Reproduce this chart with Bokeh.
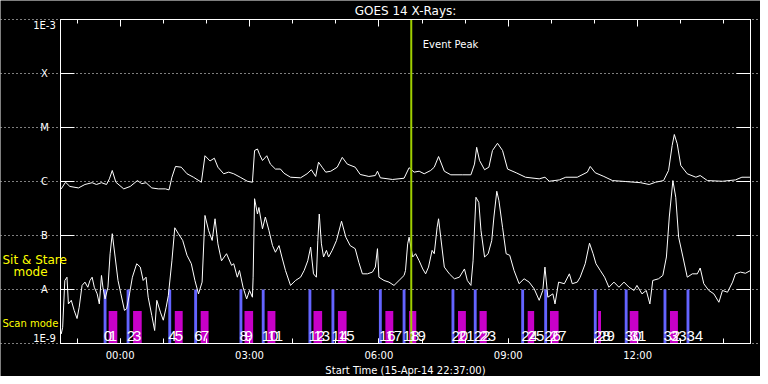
from bokeh.plotting import figure
from bokeh.models import (Range1d, LinearAxis, LogAxis, FixedTicker, CustomJSTickFormatter,
                          Label, ColumnDataSource)
from bokeh.embed import file_html
from bokeh.resources import INLINE
from bokeh.core.properties import value

# ---------------- data ----------------
title_text = "GOES 14 X-Rays:"
start_label = "15-Apr-14 22:37:00"
start_minute_of_day = 22 * 60 + 37
duration_min = 960

# long channel (1-8 A), minutes after start, W/m^2
long_t = [1, 7, 13, 25, 34, 44, 50, 57, 64, 68, 72, 77, 88, 97, 107, 113, 119, 127, 136, 146,
          151, 155, 160, 168, 176, 185, 196, 201, 208, 214, 219, 227, 234, 241, 250, 260, 267, 270, 274, 277,
          281, 287, 292, 299, 306, 311, 320, 334, 343, 349, 355, 359, 364, 369, 376, 385, 392, 399, 410, 417,
          429, 438, 441, 445, 462, 478, 485, 492, 499, 506, 515, 520, 526, 534, 543, 559, 571, 576, 579, 583,
          590, 596, 601, 608, 615, 622, 634, 647, 666, 674, 680, 694, 703, 719, 733, 737, 744, 756, 768, 786,
          807, 819, 828, 839, 846, 851, 854, 858, 863, 872, 884, 890, 900, 921, 939, 948, 960]
long_flux = [7.3e-7, 9.7e-7, 8.1e-7, 7.6e-7, 8.8e-7, 9.5e-7, 8.8e-7, 9.5e-7, 8.8e-7, 1.12e-6,
             1.6e-6, 9.7e-7, 7.3e-7, 8.1e-7, 1.04e-6, 9.1e-7, 9.5e-7, 7.6e-7, 7.3e-7, 7.3e-7,
             7.0e-7, 1.2e-6, 1.9e-6, 1.84e-6, 1.39e-6, 1.2e-6, 9.7e-7, 3.0e-6, 2.4e-6, 2.7e-6,
             1.84e-6, 1.39e-6, 1.49e-6, 1.39e-6, 1.2e-6, 1.01e-6, 9.7e-7, 3.75e-6, 4.0e-6, 3.16e-6,
             2.45e-6, 3.0e-6, 2.1e-6, 1.7e-6, 1.7e-6, 1.42e-6, 1.2e-6, 1.17e-6, 1.39e-6, 1.65e-6,
             1.24e-6, 2.28e-6, 1.84e-6, 1.49e-6, 1.55e-6, 1.84e-6, 2.8e-6, 2.1e-6, 1.84e-6, 1.35e-6,
             1.24e-6, 1.29e-6, 1.55e-6, 1.17e-6, 1.09e-6, 1.15e-6, 1.8e-6, 1.49e-6, 1.55e-6, 1.39e-6,
             1.6e-6, 1.84e-6, 2.9e-6, 1.55e-6, 1.33e-6, 1.33e-6, 1.33e-6, 2.1e-6, 4.3e-6, 2.45e-6,
             1.65e-6, 1.84e-6, 3.75e-6, 5.1e-6, 3.75e-6, 1.7e-6, 1.45e-6, 1.2e-6, 1.12e-6, 1.2e-6,
             1.01e-6, 1.07e-6, 1.2e-6, 1.2e-6, 1.49e-6, 1.9e-6, 1.45e-6, 1.24e-6, 1.04e-6, 1.0e-6,
             9.5e-7, 8.8e-7, 9.7e-7, 1.04e-6, 1.6e-6, 4.64e-6, 7.42e-6, 5.0e-6, 1.98e-6, 1.39e-6,
             1.2e-6, 1.29e-6, 1.04e-6, 1.01e-6, 1.07e-6, 1.2e-6, 1.2e-6]

# short channel (0.5-4 A)
short_t = [1, 3, 6, 9, 11, 15, 19, 23, 26, 30, 34, 38, 41, 44, 47, 51, 54, 57, 59, 62,
           66, 69, 72, 76, 80, 84, 89, 92, 96, 100, 106, 111, 115, 119, 122, 127, 131, 134, 139, 143,
           147, 150, 155, 159, 164, 170, 176, 182, 187, 192, 197, 201, 206, 211, 215, 219, 224, 231, 238, 241,
           246, 249, 254, 259, 263, 267, 268, 270, 274, 276, 281, 285, 290, 295, 299, 304, 308, 313, 320, 327,
           334, 339, 344, 348, 352, 356, 358, 360, 363, 366, 370, 373, 378, 384, 391, 397, 403, 410, 415, 420,
           427, 434, 438, 441, 443, 450, 457, 464, 471, 478, 480, 483, 485, 490, 494, 499, 504, 508, 512, 517,
           520, 524, 526, 529, 534, 541, 548, 555, 562, 566, 571, 574, 578, 582, 585, 590, 595, 600, 603, 607,
           610, 615, 620, 625, 631, 638, 645, 652, 659, 666, 671, 674, 678, 685, 688, 693, 701, 708, 712, 719,
           723, 730, 736, 741, 745, 751, 757, 763, 770, 777, 784, 791, 798, 802, 809, 815, 820, 824, 832, 838,
           843, 847, 852, 856, 860, 866, 872, 879, 886, 890, 895, 902, 909, 916, 921, 928, 935, 939, 946, 953,
           960]
short_flux = [1.5e-9, 2.0e-9, 1.47e-8, 1.69e-8, 5.4e-9, 6.3e-9, 4.1e-9, 2.9e-9, 4.7e-9, 1.19e-8,
              1.37e-8, 1.1e-8, 1.47e-8, 1.69e-8, 1.1e-8, 8.3e-9, 5.4e-9, 1.82e-8, 1.1e-8, 6.7e-9,
              1.1e-8, 4.6e-8, 1.08e-7, 4.0e-8, 1.47e-8, 8.3e-9, 4.1e-9, 4.4e-9, 8.3e-9, 1.69e-8,
              3.0e-8, 2.6e-8, 1.47e-8, 1.69e-8, 7.2e-9, 3.3e-9, 1.74e-9, 6.3e-9, 3.8e-9, 2.7e-9,
              4.7e-9, 7.7e-9, 3.4e-8, 1.39e-7, 1.08e-7, 8.1e-8, 4.3e-8, 3.0e-8, 1.47e-8, 8.3e-9,
              1.37e-8, 2.35e-7, 1.24e-7, 8.1e-8, 2.04e-7, 7.0e-8, 3.4e-8, 4.6e-8, 2.8e-8, 3.0e-8,
              1.69e-8, 2.25e-8, 1.1e-8, 6.7e-9, 9.6e-9, 7.2e-9, 1.69e-8, 4.8e-7, 2.5e-7, 3.3e-7,
              1.33e-7, 2.2e-7, 1.24e-7, 6.5e-8, 4.9e-8, 6.5e-8, 4.0e-8, 2.25e-8, 1.19e-8, 1.47e-8,
              1.69e-8, 2.25e-8, 3.4e-8, 6.1e-8, 1.95e-8, 1.69e-8, 8.1e-8, 2.5e-7, 7.0e-8, 4.0e-8,
              5.3e-8, 4.0e-8, 5.3e-8, 8.1e-8, 1.84e-7, 9.3e-8, 6.5e-8, 5.7e-8, 3.2e-8, 1.95e-8,
              1.95e-8, 2.1e-8, 2.6e-8, 5.7e-8, 1.69e-8, 1.47e-8, 1.37e-8, 1.19e-8, 1.47e-8, 1.82e-8,
              2.25e-8, 7.0e-8, 9.3e-8, 4.0e-8, 4.6e-8, 3.4e-8, 2.4e-8, 1.95e-8, 2.6e-8, 5.3e-8,
              4.6e-8, 1.42e-7, 2.04e-7, 9.3e-8, 2.6e-8, 1.95e-8, 1.58e-8, 1.69e-8, 2.4e-8, 1.47e-8,
              1.19e-8, 3.4e-8, 5.1e-7, 4.1e-7, 1.24e-7, 4.0e-8, 4.6e-8, 8.1e-8, 2.2e-7, 6.6e-7,
              4.4e-7, 1.42e-7, 4.6e-8, 4.3e-8, 2.25e-8, 1.28e-8, 1.58e-8, 1.37e-8, 1.03e-8, 6.3e-9,
              9.6e-9, 2.6e-8, 7.2e-9, 8.3e-9, 5.4e-9, 1.37e-8, 1.28e-8, 1.95e-8, 1.28e-8, 1.37e-8,
              1.69e-8, 3.0e-8, 7.2e-8, 4.6e-8, 3.0e-8, 2.25e-8, 1.69e-8, 1.1e-8, 1.37e-8, 1.1e-8,
              1.37e-8, 1.1e-8, 9.6e-9, 1.19e-8, 8.3e-9, 9.6e-9, 5.4e-9, 1.47e-8, 1.58e-8, 1.82e-8,
              4.0e-8, 2.2e-7, 1.04e-6, 5.1e-7, 9.3e-8, 4.0e-8, 1.69e-8, 1.95e-8, 1.95e-8, 2.5e-8,
              1.28e-8, 9.6e-9, 8.3e-9, 5.8e-9, 9.6e-9, 8.9e-9, 1.37e-8, 1.95e-8, 2.1e-8, 2.0e-8,
              2.25e-8]

# observing modes: start minute and duration (minutes)
sit_stare_start = [60, 92, 150, 186, 249, 280, 345, 377, 443, 476, 544, 575, 641, 673, 742, 785, 839, 871]
sit_stare_dur = [4] * len(sit_stare_start)
scan_start = [67, 101, 159, 195, 256, 288, 352, 386, 452, 485, 553, 583, 650, 681, 748, 792, 848]
scan_dur = [12, 12, 11, 11, 12, 11, 12, 12, 11, 10, 11, 10, 9, 12, 4, 12, 11]

event_peak_t = 488

flux_min, flux_max = 1e-9, 1e-3
y_tick_values = [1e-9, 1e-8, 1e-7, 1e-6, 1e-5, 1e-4, 1e-3]
y_tick_labels = ["1E-9", "A", "B", "C", "M", "X", "1E-3"]

# ---------------- layout geometry (pixels) ----------------
W, H = 760, 376
FL, FR, FT, FB = 60, 750, 19, 343          # data box inside the canvas
ppm = (FR - FL) / duration_min             # pixels per minute
ppd = (FB - FT) / 6.0                      # pixels per decade
x0 = -FL / ppm
x1 = duration_min + (W - FR) / ppm
y1 = flux_max * 10 ** (FT / ppd)
y0 = flux_min * 10 ** (-(H - FB) / ppd)

FONT = "DejaVu Sans"
p = figure(width=W, height=H, x_range=Range1d(x0, x1), y_range=Range1d(y0, y1),
           y_axis_type="log", output_backend="svg", toolbar_location=None,
           background_fill_color="black", border_fill_color="black",
           min_border=0, min_border_left=0, min_border_right=0, min_border_top=0, min_border_bottom=0)
p.outline_line_color = None
p.xgrid.visible = False

first_hour = (60 - start_minute_of_day % 60) % 60
minor_x = list(range(first_hour, duration_min + 1, 60))
major_x = [m for m in minor_x if ((start_minute_of_day + m) // 60) % 3 == 0]
xt = FixedTicker(ticks=major_x, minor_ticks=minor_x)
xfmt = CustomJSTickFormatter(args=dict(start=start_minute_of_day), code="""
const m = ((start + Math.round(tick)) % 1440 + 1440) % 1440;
const h = Math.floor(m / 60), mm = m % 60;
return String(h).padStart(2, '0') + ':' + String(mm).padStart(2, '0');
""")
blank = CustomJSTickFormatter(code="return '';")

xa = p.xaxis[0]
xa.fixed_location = flux_min
xa.bounds = (0, duration_min)
xa.ticker = xt
xa.formatter = xfmt
xa.axis_label = "Start Time (" + start_label + ")"
xa.axis_label_text_font = FONT
xa.axis_label_text_font_style = "normal"
xa.axis_label_text_font_size = "10px"
xa.axis_label_text_color = "white"
xa.axis_label_standoff = 1
xa.major_label_text_font = FONT
xa.major_label_text_font_size = "10px"
xa.major_label_text_color = "white"
xa.major_label_standoff = 6
xa.axis_line_color = "white"
xa.major_tick_line_color = "white"
xa.minor_tick_line_color = "white"
xa.major_tick_in = 5
xa.major_tick_out = 0
xa.minor_tick_in = 5
xa.minor_tick_out = 0

top = LinearAxis(ticker=xt, formatter=blank, fixed_location=flux_max, bounds=(0, duration_min),
                 major_label_standoff=0, major_label_text_font_size="10px",
                 axis_line_color="white", major_tick_line_color="white", minor_tick_line_color="white",
                 major_tick_in=7, major_tick_out=0, minor_tick_in=4, minor_tick_out=0)
p.add_layout(top, "above")

yt = FixedTicker(ticks=y_tick_values)
ya = p.yaxis[0]
ya.fixed_location = 0
ya.bounds = (flux_min, flux_max)
ya.ticker = yt
ya.formatter = blank
ya.major_label_text_font_size = "10px"
ya.major_label_standoff = 0
ya.axis_line_color = "white"
ya.major_tick_line_color = "white"
ya.major_tick_in = 14
ya.major_tick_out = 0
ya.minor_tick_line_color = None

right = LogAxis(ticker=yt, formatter=blank, fixed_location=duration_min, bounds=(flux_min, flux_max),
                major_label_standoff=0, major_label_text_font_size="10px",
                axis_line_color="white", major_tick_line_color="white", minor_tick_line_color=None,
                major_tick_in=14, major_tick_out=0)
p.add_layout(right, "right")

p.ygrid.ticker = yt
p.ygrid.bounds = (0, duration_min)
p.ygrid.grid_line_color = "white"
p.ygrid.grid_line_dash = "1 3"
p.ygrid.grid_line_width = 1

# flux-class names beside the left axis (centred like the original)
lab_x = -16 / ppm
for base, sel in (("top", [6]), ("middle", [1, 2, 3, 4, 5]), ("bottom", [0])):
    p.text(x=[lab_x] * len(sel), y=[y_tick_values[i] for i in sel], text=[y_tick_labels[i] for i in sel],
           text_color="white", text_font=value(FONT), text_font_size="10px",
           text_align="center", text_baseline=base)

# mode bars
ss = ColumnDataSource(dict(left=sit_stare_start,
                           right=[s + d for s, d in zip(sit_stare_start, sit_stare_dur)]))
sc = ColumnDataSource(dict(left=scan_start,
                           right=[s + d for s, d in zip(scan_start, scan_dur)]))
p.quad(left="left", right="right", bottom=flux_min, top=1e-8, source=ss,
       fill_color="#6464ff", line_color=None)
p.quad(left="left", right="right", bottom=flux_min, top=4e-9, source=sc,
       fill_color="#c800c8", line_color=None)

# curves
p.line(long_t, long_flux, line_color="white", line_width=1)
p.line(short_t, short_flux, line_color="white", line_width=1)

# event peak
p.segment(x0=[event_peak_t], y0=[flux_min], x1=[event_peak_t], y1=[flux_max],
          line_color="#9fcf00", line_width=2)
p.add_layout(Label(x=event_peak_t + 16, y=3.4e-4, text="Event Peak", text_color="white",
                   text_font=FONT, text_font_size="10px", text_baseline="alphabetic"))

# data box outline
p.quad(left=[0], right=[duration_min], bottom=[flux_min], top=[flux_max],
       fill_color=None, line_color="white", line_width=1)

# sequence numbers of the mode blocks
marks = sorted(sit_stare_start + scan_start)
nums = ColumnDataSource(dict(x=marks, y=[1.35e-9] * len(marks), t=[str(i) for i in range(len(marks))]))
p.text(x="x", y="y", text="t", source=nums, text_color="white", text_font=value("Liberation Sans"),
       text_font_size="15px", text_baseline="alphabetic", text_align="left")

# texts around the data box (screen units: from left / bottom of canvas)
p.add_layout(Label(x=(FL + FR) / 2, y=H - 10, x_units="screen", y_units="screen", text=title_text,
                   text_align="center", text_baseline="alphabetic", text_color="white",
                   text_font=FONT, text_font_size="12px"))
p.add_layout(Label(x=2, y=H - 259, x_units="screen", y_units="screen", text="Sit & Stare",
                   text_baseline="alphabetic", text_color="#ffff00", text_font=FONT, text_font_size="12px"))
p.add_layout(Label(x=13, y=H - 271, x_units="screen", y_units="screen", text="mode",
                   text_baseline="alphabetic", text_color="#ffff00", text_font=FONT, text_font_size="12px"))
p.add_layout(Label(x=2, y=H - 323, x_units="screen", y_units="screen", text="Scan mode",
                   text_baseline="alphabetic", text_color="#ffff00", text_font=FONT, text_font_size="10px"))

open("out.html", "w").write(file_html(p, INLINE))
